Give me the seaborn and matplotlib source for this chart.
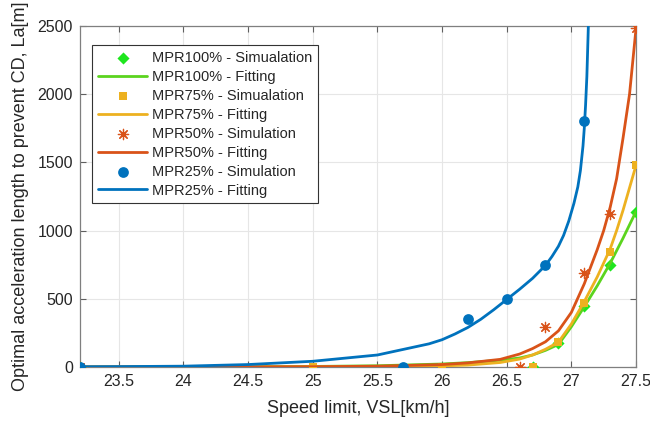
import numpy as np
import pandas as pd
import matplotlib
matplotlib.use("Agg")
import matplotlib.pyplot as plt
import seaborn as sns

# ---------------- data ----------------
# Simulation points
sim100_x = [23.2, 26.7, 26.9, 27.1, 27.3, 27.5]
sim100_y = [0, 0, 175, 445, 750, 1140]
sim75_x = [23.2, 25.0, 26.0, 26.7, 26.9, 27.1, 27.3, 27.5]
sim75_y = [0, 0, 0, 0, 185, 470, 840, 1480]
sim50_x = [23.2, 26.6, 26.8, 27.1, 27.3, 27.5]
sim50_y = [0, 0, 290, 690, 1120, 2485]
sim25_x = [23.2, 25.7, 26.2, 26.5, 26.8, 27.1]
sim25_y = [0, 0, 350, 500, 750, 1800]

# Fitting curves
fit100_x = [23.2, 24.0, 24.5, 25.0, 25.5, 26.0, 26.2, 26.45, 26.6, 26.7, 26.8, 26.9, 27.0, 27.1, 27.2, 27.3, 27.4, 27.5]
fit100_y = [0, 1, 2, 4, 9, 22, 32, 50, 66, 88, 122, 165, 295, 442, 595, 760, 945, 1140]
fit75_x = [23.2, 24.0, 24.5, 25.0, 25.5, 26.0, 26.2, 26.45, 26.6, 26.7, 26.8, 26.9, 27.0, 27.1, 27.2, 27.3, 27.35, 27.4, 27.5]
fit75_y = [0, 0, 0.5, 1, 3, 8, 14, 33, 58, 88, 130, 182, 315, 480, 660, 865, 1000, 1150, 1478]
fit50_x = [23.2, 24.0, 24.5, 25.0, 25.5, 26.0, 26.2, 26.45, 26.6, 26.7, 26.8, 26.9, 27.0, 27.1, 27.2, 27.25, 27.3, 27.35, 27.4, 27.45, 27.5]
fit50_y = [0, 0.5, 1, 2, 6, 18, 30, 56, 95, 135, 185, 265, 400, 610, 860, 1000, 1170, 1380, 1680, 2000, 2480]
fit25_x = [23.2, 23.5, 24.0, 24.5, 25.0, 25.5, 25.9, 26.0, 26.1, 26.2, 26.3, 26.4, 26.5, 26.6, 26.7, 26.8, 26.85, 26.9, 26.94, 26.98,
           27.02, 27.05, 27.07, 27.09, 27.1, 27.11, 27.12, 27.13, 27.14]
fit25_y = [2, 3, 6, 18, 42, 88, 170, 200, 242, 290, 350, 420, 495, 570, 650, 745, 810, 885, 965, 1070,
           1200, 1320, 1440, 1620, 1750, 1920, 2130, 2450, 2800]

x_ticks = [23.5, 24, 24.5, 25, 25.5, 26, 26.5, 27, 27.5]
x_tick_labels = ["23.5", "24", "24.5", "25", "25.5", "26", "26.5", "27", "27.5"]
y_ticks = [0, 500, 1000, 1500, 2000, 2500]

labels = ["MPR100% - Simualation", "MPR100% - Fitting",
          "MPR75% - Simualation", "MPR75% - Fitting",
          "MPR50% - Simulation", "MPR50% - Fitting",
          "MPR25% - Simulation", "MPR25% - Fitting"]

# ---------------- styling ----------------
sns.set_theme(style="whitegrid")
plt.rcParams['font.family'] = ['Liberation Sans', 'DejaVu Sans']

c_green_m = "#1EE61E"
c_green_l = "#5BD41E"
c_yellow = "#EDB120"
c_red = "#D95319"
c_blue = "#0072BD"

fig = plt.figure(figsize=(6.5, 4.21), dpi=100)
ax = fig.add_axes([80/650, 1-367/421, (636-80)/650, (367-26)/421])

lw = 2.0
sns.scatterplot(x=sim100_x, y=sim100_y, marker="D", s=38, color=c_green_m, linewidth=0, label=labels[0], ax=ax, zorder=3)
sns.lineplot(x=fit100_x, y=fit100_y, color=c_green_l, linewidth=lw, label=labels[1], ax=ax, zorder=3, sort=False)
sns.scatterplot(x=sim75_x, y=sim75_y, marker="s", s=38, color=c_yellow, linewidth=0, label=labels[2], ax=ax, zorder=3)
sns.lineplot(x=fit75_x, y=fit75_y, color=c_yellow, linewidth=lw, label=labels[3], ax=ax, zorder=3, sort=False)
sns.scatterplot(x=sim50_x, y=sim50_y, marker=(8, 2, 0), s=55, color=c_red, edgecolor=c_red, linewidth=0.9, label=labels[4], ax=ax, zorder=3)
sns.lineplot(x=fit50_x, y=fit50_y, color=c_red, linewidth=lw, label=labels[5], ax=ax, zorder=3, sort=False)
sns.scatterplot(x=sim25_x, y=sim25_y, marker="o", s=60, color=c_blue, linewidth=0, label=labels[6], ax=ax, zorder=3)
sns.lineplot(x=fit25_x, y=fit25_y, color=c_blue, linewidth=lw, label=labels[7], ax=ax, zorder=3, sort=False)

ax.set_xlim(23.2, 27.5)
ax.set_ylim(0, 2500)
ax.set_xticks(x_ticks)
ax.set_xticklabels(x_tick_labels)
ax.set_yticks(y_ticks)
ax.set_yticklabels([str(v) for v in y_ticks])

ax.set_facecolor("white")
ax.grid(True, color="#E6E6E6", linewidth=0.8)
for sp in ax.spines.values():
    sp.set_color("#7F7F7F")
    sp.set_linewidth(0.9)
ax.tick_params(direction="in", length=4, width=0.8, color="#5F5F5F",
               top=True, right=True, bottom=True, left=True,
               labelsize=11.5, labelcolor="#262626", pad=5)

ax.set_xlabel("Speed limit, VSL[km/h]", fontsize=13, color="#262626", labelpad=8)
ax.set_ylabel("Optimal acceleration length to prevent CD, La[m]", fontsize=13, color="#262626", labelpad=6)

h, l = ax.get_legend_handles_labels()
order = [l.index(s) for s in labels]
leg = ax.legend([h[i] for i in order], [l[i] for i in order],
                loc="upper left", bbox_to_anchor=(12/556, 1-19/341), borderaxespad=0,
                fontsize=10.5, frameon=True, fancybox=False, framealpha=1,
                edgecolor="#333333", handlelength=3.4, handletextpad=0.3,
                labelspacing=0.34, borderpad=0.4)
leg.get_frame().set_linewidth(0.8)

fig.savefig("out.png", dpi=100, facecolor="white")
